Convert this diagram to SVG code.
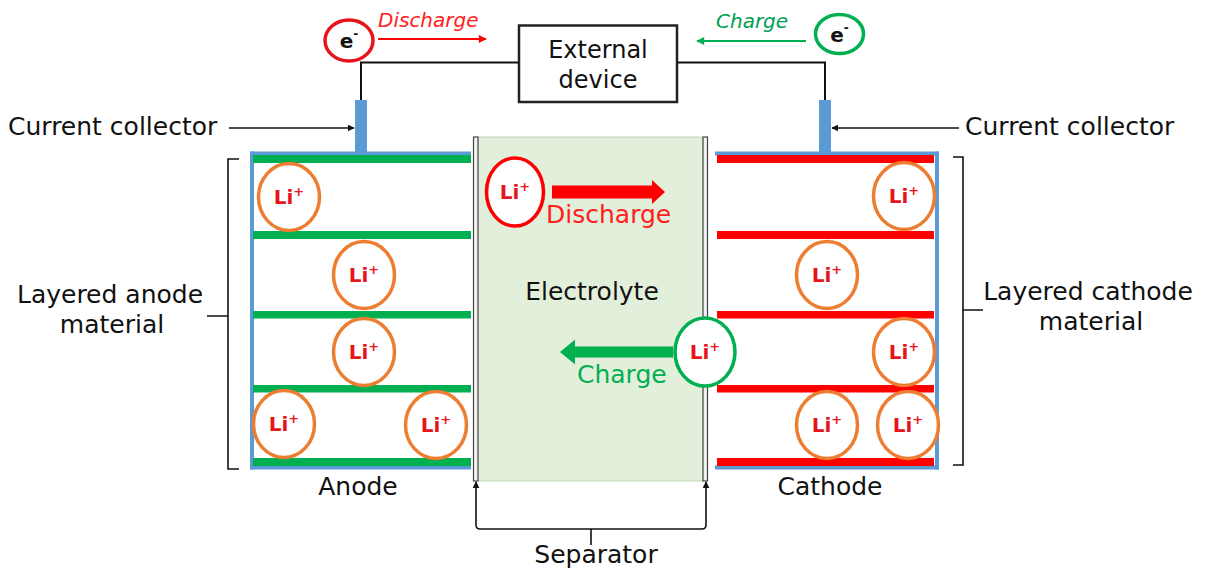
<svg xmlns="http://www.w3.org/2000/svg" width="1206" height="571" viewBox="0 0 1206 571">
<style>
  text { font-family: "DejaVu Sans", Verdana, sans-serif; }
  .lbl { font-size: 25px; fill: #111; }
  .li-o { fill: #fff; stroke: #ed7d31; stroke-width: 3.5; }
  .li-t { font-size: 20px; font-weight: bold; fill: #e8141c; text-anchor: middle; }
  .sup { font-size: 13px; }
  .blue { fill: #5b9bd5; }
  .green { fill: #00b050; }
  .red { fill: #ff0000; }
  .wire { fill: none; stroke: #111; stroke-width: 2; }
  .thin { fill: none; stroke: #111; stroke-width: 1.6; }
  .sep { fill: #f2f2f2; stroke: #444; stroke-width: 1.2; }
</style>
<defs>
  <marker id="ahBlack" viewBox="0 0 10 10" refX="9" refY="5" markerWidth="7" markerHeight="7" orient="auto-start-reverse" markerUnits="userSpaceOnUse">
    <path d="M0,0 L10,5 L0,10 z" fill="#111"/>
  </marker>
  <marker id="ahRed" viewBox="0 0 10 10" refX="9" refY="5" markerWidth="10" markerHeight="8" orient="auto" markerUnits="userSpaceOnUse">
    <path d="M0,0 L10,5 L0,10 z" fill="#ff0000"/>
  </marker>
  <marker id="ahGreen" viewBox="0 0 10 10" refX="9" refY="5" markerWidth="10" markerHeight="8" orient="auto" markerUnits="userSpaceOnUse">
    <path d="M0,0 L10,5 L0,10 z" fill="#00b050"/>
  </marker>
</defs>
<rect width="1206" height="571" fill="#fff"/>

<!-- Electrolyte / separator -->
<g id="electrolyte">
  <rect x="478" y="137" width="225" height="344" fill="#e2efda" stroke="#c5d6bb" stroke-width="1"/>
  <rect class="sep" x="473.5" y="137" width="4.5" height="344"/>
  <rect class="sep" x="703" y="137" width="4.5" height="344"/>
  <text class="lbl" x="592" y="300" text-anchor="middle">Electrolyte</text>
</g>

<!-- Anode -->
<g id="anode">
  <rect class="blue" x="250" y="151.5" width="221" height="4"/>
  <rect class="blue" x="250" y="151.5" width="4" height="318"/>
  <rect class="blue" x="250" y="465.5" width="221" height="4"/>
  <rect class="green" x="253" y="155" width="218" height="8"/>
  <rect class="green" x="253" y="231" width="218" height="8"/>
  <rect class="green" x="253" y="311" width="218" height="7.5"/>
  <rect class="green" x="253" y="385" width="218" height="7.5"/>
  <rect class="green" x="253" y="458" width="218" height="8"/>
  <rect class="blue" x="355" y="100" width="12" height="53"/>
  <text class="lbl" x="358" y="495" text-anchor="middle">Anode</text>
</g>

<!-- Cathode -->
<g id="cathode">
  <rect class="blue" x="715" y="151.5" width="224" height="4"/>
  <rect class="blue" x="935" y="151.5" width="4" height="318"/>
  <rect class="blue" x="715" y="465.5" width="224" height="4"/>
  <rect class="red" x="717" y="155" width="217" height="8"/>
  <rect class="red" x="717" y="231" width="217" height="8"/>
  <rect class="red" x="717" y="311" width="217" height="7.5"/>
  <rect class="red" x="717" y="385" width="217" height="7.5"/>
  <rect class="red" x="717" y="458" width="217" height="8"/>
  <rect class="blue" x="819" y="100" width="12" height="53"/>
  <text class="lbl" x="830" y="495" text-anchor="middle">Cathode</text>
</g>

<!-- Li+ ions in anode -->
<g id="li-anode-1"><ellipse class="li-o" cx="289" cy="197" rx="30.5" ry="33.5"/><text class="li-t" x="289" y="204">Li<tspan class="sup" dy="-8">+</tspan></text></g>
<g id="li-anode-2"><ellipse class="li-o" cx="364" cy="275" rx="30.5" ry="33.5"/><text class="li-t" x="364" y="282">Li<tspan class="sup" dy="-8">+</tspan></text></g>
<g id="li-anode-3"><ellipse class="li-o" cx="364" cy="352" rx="30.5" ry="33.5"/><text class="li-t" x="364" y="359">Li<tspan class="sup" dy="-8">+</tspan></text></g>
<g id="li-anode-4"><ellipse class="li-o" cx="284" cy="424" rx="30.5" ry="33.5"/><text class="li-t" x="284" y="431">Li<tspan class="sup" dy="-8">+</tspan></text></g>
<g id="li-anode-5"><ellipse class="li-o" cx="436" cy="425" rx="30.5" ry="33.5"/><text class="li-t" x="436" y="432">Li<tspan class="sup" dy="-8">+</tspan></text></g>

<!-- Li+ ions in cathode -->
<g id="li-cathode-1"><ellipse class="li-o" cx="904" cy="196" rx="30.5" ry="33.5"/><text class="li-t" x="904" y="203">Li<tspan class="sup" dy="-8">+</tspan></text></g>
<g id="li-cathode-2"><ellipse class="li-o" cx="827" cy="275" rx="30.5" ry="33.5"/><text class="li-t" x="827" y="282">Li<tspan class="sup" dy="-8">+</tspan></text></g>
<g id="li-cathode-3"><ellipse class="li-o" cx="904" cy="352" rx="30.5" ry="33.5"/><text class="li-t" x="904" y="359">Li<tspan class="sup" dy="-8">+</tspan></text></g>
<g id="li-cathode-4"><ellipse class="li-o" cx="827" cy="425" rx="30.5" ry="33.5"/><text class="li-t" x="827" y="432">Li<tspan class="sup" dy="-8">+</tspan></text></g>
<g id="li-cathode-5"><ellipse class="li-o" cx="908" cy="425" rx="30.5" ry="33.5"/><text class="li-t" x="908" y="432">Li<tspan class="sup" dy="-8">+</tspan></text></g>

<!-- Li+ moving in electrolyte -->
<g id="li-discharge">
  <ellipse cx="515" cy="192" rx="28.5" ry="34" fill="#fff" stroke="#ff0000" stroke-width="3.5"/>
  <text class="li-t" x="515" y="199">Li<tspan class="sup" dy="-8">+</tspan></text>
  <polygon points="552,185.5 652,185.5 652,180 665,192 652,204 652,198.5 552,198.5" fill="#ff0000"/>
  <text x="546" y="223" font-size="25" fill="#ff2020">Discharge</text>
</g>
<g id="li-charge">
  <ellipse cx="705" cy="352" rx="30" ry="34" fill="#fff" stroke="#00b050" stroke-width="3.5"/>
  <text class="li-t" x="705" y="359">Li<tspan class="sup" dy="-8">+</tspan></text>
  <polygon points="673,346.5 575,346.5 575,339.5 560,352 575,364.5 575,357.5 673,357.5" fill="#00b050"/>
  <text x="577" y="383" font-size="25" fill="#00b050">Charge</text>
</g>

<!-- External device -->
<g id="external-device">
  <rect x="519" y="25.5" width="158" height="76.5" fill="#fff" stroke="#222" stroke-width="2.5"/>
  <text x="598" y="58" font-size="24" fill="#111" text-anchor="middle">External</text>
  <text x="598" y="88" font-size="24" fill="#111" text-anchor="middle">device</text>
</g>

<!-- Electrons -->
<g id="electron-discharge">
  <ellipse cx="349" cy="40.5" rx="24" ry="20.5" fill="#fff" stroke="#e8141c" stroke-width="3.5"/>
  <text x="349" y="48" font-size="20" font-weight="bold" fill="#111" text-anchor="middle">e<tspan font-size="12" dy="-10">-</tspan></text>
  <text x="378" y="27" font-size="20" font-style="italic" fill="#ff2020">Discharge</text>
</g>
<g id="electron-charge">
  <ellipse cx="839.5" cy="34" rx="24" ry="19.5" fill="#fff" stroke="#00b050" stroke-width="3.5"/>
  <text x="839.5" y="41.5" font-size="20" font-weight="bold" fill="#111" text-anchor="middle">e<tspan font-size="12" dy="-10">-</tspan></text>
  <text x="716" y="28" font-size="20" font-style="italic" fill="#00a050">Charge</text>
</g>

<!-- Labels -->
<g id="label-cc-left"><text class="lbl" x="8" y="135">Current collector</text></g>
<g id="label-cc-right"><text class="lbl" x="965" y="135">Current collector</text></g>
<g id="label-anode-material">
  <text class="lbl" x="110" y="303" text-anchor="middle">Layered anode</text>
  <text class="lbl" x="112" y="333" text-anchor="middle">material</text>
</g>
<g id="label-cathode-material">
  <text class="lbl" x="1088" y="300" text-anchor="middle">Layered cathode</text>
  <text class="lbl" x="1091" y="330" text-anchor="middle">material</text>
</g>
<g id="label-separator"><text class="lbl" x="596" y="563" text-anchor="middle">Separator</text></g>

<!-- Connectors -->
<g id="connectors">
  <polyline class="wire" points="361,100 361,62.5 519,62.5"/>
  <polyline class="wire" points="677,62.5 825,62.5 825,100"/>
  <line x1="378" y1="39" x2="486" y2="39" stroke="#ff0000" stroke-width="2" marker-end="url(#ahRed)"/>
  <line x1="806" y1="41" x2="697" y2="41" stroke="#00b050" stroke-width="2" marker-end="url(#ahGreen)"/>
  <line class="thin" x1="229" y1="128" x2="354" y2="128" marker-end="url(#ahBlack)"/>
  <line class="thin" x1="959" y1="128" x2="832" y2="128" marker-end="url(#ahBlack)"/>
  <path class="thin" d="M239,159 L228,159 L228,469 L239,469 M228,316 L207,316"/>
  <path class="thin" d="M953,157 L963,157 L963,465 L953,465 M963,310 L983,310"/>
  <path class="thin" d="M476,482 L476,525 Q476,529 480,529 L702,529 Q706,529 706,525 L706,482" marker-start="url(#ahBlack)" marker-end="url(#ahBlack)"/>
  <line class="thin" x1="591" y1="529" x2="591" y2="545"/>
</g>
</svg>
